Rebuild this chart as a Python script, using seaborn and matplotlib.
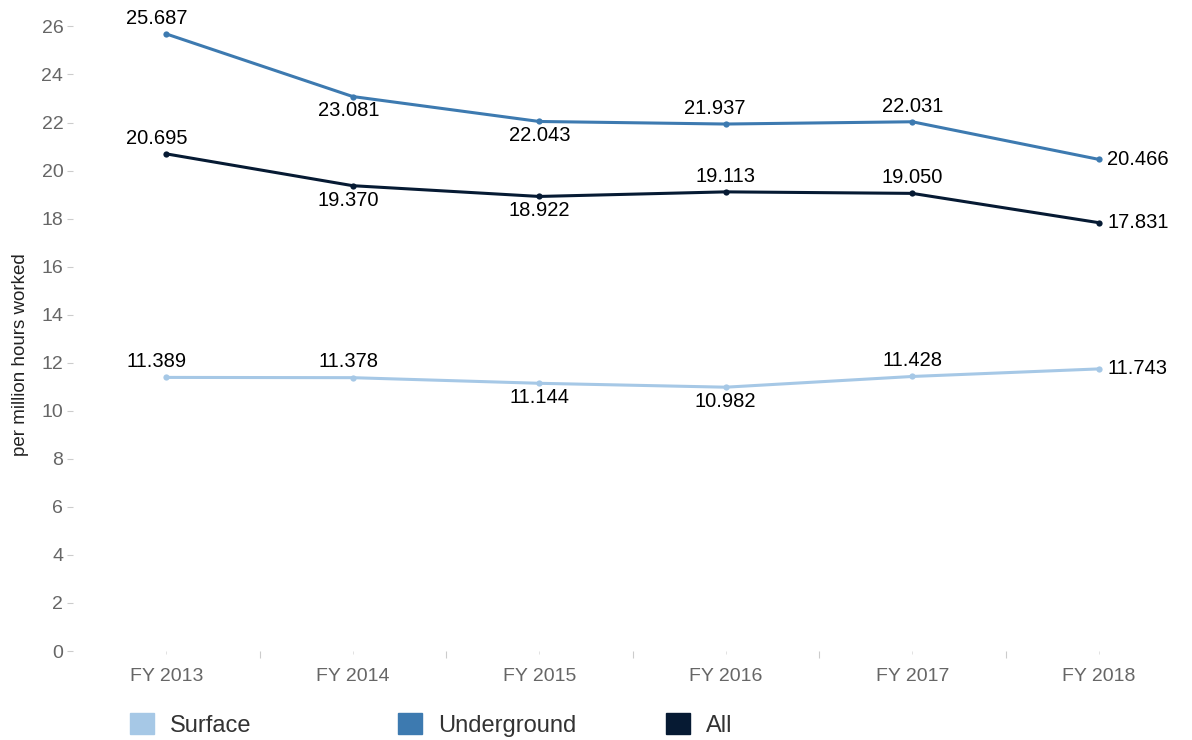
import matplotlib.pyplot as plt
import matplotlib.patches as mpatches
import seaborn as sns
import pandas as pd

years = ['FY 2013', 'FY 2014', 'FY 2015', 'FY 2016', 'FY 2017', 'FY 2018']
surface = [11.389, 11.378, 11.144, 10.982, 11.428, 11.743]
underground = [25.687, 23.081, 22.043, 21.937, 22.031, 20.466]
all_mines = [20.695, 19.370, 18.922, 19.113, 19.050, 17.831]

series_names = ['Surface', 'Underground', 'All']
colors = ['#a6c8e6', '#3d7ab0', '#061a33']
# label position for each point: a = above, b = below, r = right
label_pos = {
    'Surface': ['a', 'a', 'b', 'b', 'a', 'r'],
    'Underground': ['a', 'b', 'b', 'a', 'a', 'r'],
    'All': ['a', 'b', 'b', 'a', 'a', 'r'],
}
# small sideways nudges (points) the original applies to some labels
label_dx = {
    'Surface': [-7, -3, 0, 0, 0, 0],
    'Underground': [-7, -3, 0, -8, 0, 0],
    'All': [-7, -3, 0, 0, 0, 0],
}

sns.set_style('white')
plt.rcParams['font.family'] = ['Liberation Sans', 'DejaVu Sans']

df = pd.DataFrame({
    'year': years * 3,
    'value': surface + underground + all_mines,
    'series': [s for s in series_names for _ in years],
})

fig = plt.figure(figsize=(11.92, 7.40), dpi=100)
ax = fig.add_axes([73 / 1192, 89 / 740, 1 - 73 / 1192, 1 - 89 / 740])

sns.lineplot(data=df, x='year', y='value', hue='series', hue_order=series_names,
             palette=colors, linewidth=2.2, marker='o', markersize=4.5,
             markeredgewidth=0, legend=False, ax=ax)

for name, vals in zip(series_names, [surface, underground, all_mines]):
    for i, v in enumerate(vals):
        pos = label_pos[name][i]
        dx = label_dx[name][i]
        if pos == 'a':
            xy, ha, va = (dx, 4.5), 'center', 'bottom'
        elif pos == 'b':
            xy, ha, va = (dx, -3.5), 'center', 'top'
        else:
            xy, ha, va = (6, 0), 'left', 'center'
        ax.annotate(f'{v:.3f}', (i, v), xytext=xy, textcoords='offset points',
                    ha=ha, va=va, fontsize=14.5, color='black')

ax.set_xlim(-0.5, 5.5)
ax.set_ylim(0, 27.1)
ax.set_yticks(range(0, 27, 2))
ax.set_xticks(range(len(years)))
ax.set_xticklabels(years)
ax.set_xticks([i + 0.5 for i in range(5)], minor=True)
ax.tick_params(axis='y', which='major', length=4, width=0.8, color='#cccccc',
               labelsize=14, labelcolor='#666666', pad=3, left=True)
ax.tick_params(axis='x', which='major', length=2, width=0.6, color='#dddddd',
               labelsize=14, labelcolor='#666666', pad=10, bottom=True)
ax.tick_params(axis='x', which='minor', length=5, width=0.8, color='#cccccc', bottom=True)
for s in ax.spines.values():
    s.set_visible(False)
ax.set_xlabel('')
ax.set_ylabel('per million hours worked', fontsize=13.5, color='#222222')
ax.yaxis.set_label_coords(-0.039, 0.455)
ax.grid(False)

# legend along the bottom, equally spaced entries
for k, (name, c) in enumerate(zip(series_names, colors)):
    x0 = (130 + k * 268) / 1192
    leg = fig.legend(handles=[mpatches.Patch(color=c, label=name)],
                     loc='upper left', bbox_to_anchor=(x0, 27 / 740),
                     frameon=False, fontsize=17, handlelength=1.0, handleheight=1.0,
                     handletextpad=0.7, borderaxespad=0, borderpad=0)
    for t in leg.get_texts():
        t.set_color('#333333')

fig.savefig('out.png', dpi=100)
